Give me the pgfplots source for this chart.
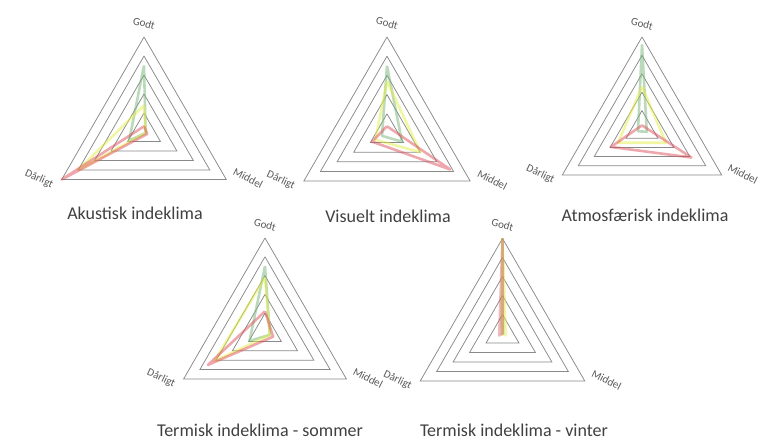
\documentclass[border=0pt]{standalone}
\usepackage{pgfplots}
\pgfplotsset{compat=1.18}
\usepgfplotslibrary{polar}
\usepackage{fontspec}
\setmainfont{Carlito}
\definecolor{gridc}{RGB}{137,137,137}
\definecolor{grn}{RGB}{120,180,120}
\definecolor{yel}{RGB}{228,238,70}
\definecolor{red}{RGB}{222,80,90}
\definecolor{labc}{RGB}{89,89,89}
\definecolor{titc}{RGB}{64,64,64}
\pgfplotsset{
  radar/.style={scale only axis, width=#1, height=#1, hide axis,
    ymin=0, ymax=5, xmin=0, xmax=360, clip=false, anchor=center},
  gl/.style={gridc, line width=0.75pt, line join=miter},
  sg/.style={grn, line width=2.6pt, opacity=0.5, line join=round},
  sy/.style={yel, line width=2.6pt, opacity=0.5, line join=round},
  sr/.style={red, line width=2.6pt, opacity=0.5, line join=round},
}
\newcommand{\gridtri}{%
  \addplot[gl] coordinates {(90,1) (210,1) (330,1) (90,1)};
  \addplot[gl] coordinates {(90,2) (210,2) (330,2) (90,2)};
  \addplot[gl] coordinates {(90,3) (210,3) (330,3) (90,3)};
  \addplot[gl] coordinates {(90,4) (210,4) (330,4) (90,4)};
  \addplot[gl] coordinates {(90,5) (210,5) (330,5) (90,5)};
  \node[labc, inner sep=1pt, font=\fontsize{11}{12}\selectfont, rotate=-15] at (axis cs:90,5.72) {Godt};
  \node[labc, inner sep=1pt, font=\fontsize{11}{12}\selectfont, rotate=-25] at (axis cs:204,6.05) {Dårligt};
  \node[labc, inner sep=1pt, font=\fontsize{11}{12}\selectfont, rotate=-27] at (axis cs:336,6.0) {Middel};
}
\begin{document}
\begin{tikzpicture}[x=1pt,y=1pt]
\path[use as bounding box] (0,0) rectangle (761,446);
% Akustisk
\begin{polaraxis}[radar=190pt, at={(144pt,314pt)}]
\gridtri
\addplot[sg] coordinates {(90,3.5) (330,0.1) (210,0.9) (90,3.5)};
\addplot[sy] coordinates {(90,1.4) (330,0.1) (210,4.0) (90,1.4)};
\addplot[sr] coordinates {(90,0.3) (330,0.2) (210,5.0) (90,0.3)};
\end{polaraxis}
% Visuelt
\begin{polaraxis}[radar=192pt, at={(387pt,313pt)}]
\gridtri
\addplot[sg] coordinates {(90,3.5) (330,0.9) (210,0.3) (90,3.5)};
\addplot[sy] coordinates {(90,2.7) (330,2.0) (210,0.7) (90,2.7)};
\addplot[sr] coordinates {(90,0.35) (330,3.8) (210,0.9) (90,0.35)};
\end{polaraxis}
% Atmosfaerisk
\begin{polaraxis}[radar=184pt, at={(642pt,317pt)}]
\gridtri
\addplot[sg] coordinates {(90,4.6) (330,0.3) (210,0.25) (90,4.6)};
\addplot[sy] coordinates {(90,2.3) (330,1.5) (210,1.5) (90,2.3)};
\addplot[sr] coordinates {(90,0.2) (330,3.1) (210,1.95) (90,0.2)};
\end{polaraxis}
% Termisk sommer
\begin{polaraxis}[radar=188pt, at={(265pt,114pt)}]
\gridtri
\addplot[sg] coordinates {(90,3.5) (330,0.3) (210,0.95) (90,3.5)};
\addplot[sy] coordinates {(90,2.9) (330,0.3) (210,3.1) (90,2.9)};
\addplot[sr] coordinates {(90,1.1) (330,0.5) (210,3.5) (90,1.1)};
\end{polaraxis}
% Termisk vinter
\begin{polaraxis}[radar=190pt, at={(502.5pt,112.5pt)}]
\gridtri
\addplot[sg, opacity=0.4] coordinates {(90,5) (330,0.05) (210,0.05) (90,5)};
\addplot[sy, opacity=0.45] coordinates {(90,5) (330,0.2) (210,0.0) (90,5)};
\addplot[sr, opacity=0.4] coordinates {(90,5) (330,0.0) (210,0.2) (90,5)};
\end{polaraxis}
\node[titc, font=\fontsize{18}{20}\selectfont] at (135,233) {Akustisk indeklima};
\node[titc, font=\fontsize{18}{20}\selectfont] at (388,230) {Visuelt indeklima};
\node[titc, font=\fontsize{18}{20}\selectfont] at (645,231) {Atmosfærisk indeklima};
\node[titc, font=\fontsize{18}{20}\selectfont] at (260,16) {Termisk indeklima - sommer};
\node[titc, font=\fontsize{18}{20}\selectfont] at (514,16) {Termisk indeklima - vinter};
\end{tikzpicture}
\end{document}
